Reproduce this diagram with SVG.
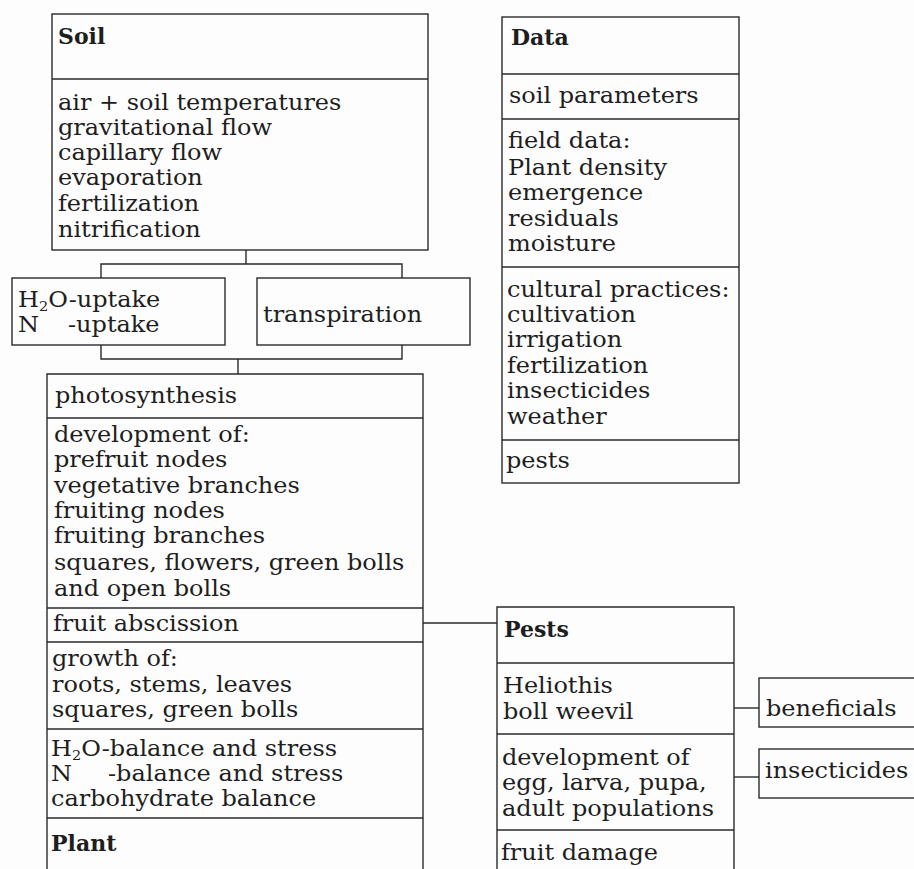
<svg xmlns="http://www.w3.org/2000/svg" width="914" height="869" viewBox="0 0 914 869">
  <style>
    .box { fill: none; stroke: #2a2a2a; stroke-width: 1.4; }
    .div { stroke: #2a2a2a; stroke-width: 1.4; }
    .link { fill: none; stroke: #2a2a2a; stroke-width: 1.4; }
    text { font-family: "DejaVu Serif", "Liberation Serif", serif; font-size: 21.5px; fill: #1e1e1e; }
    .title { font-weight: bold; font-size: 22px; }
    .sub { font-size: 13px; }
  </style>
  <rect width="914" height="869" fill="#fdfdfd"/>

  <!-- Soil model -->
  <g id="soil">
    <rect class="box" x="52" y="14" width="376" height="236"/>
    <line class="div" x1="52" y1="79" x2="428" y2="79"/>
    <text class="title" x="58" y="44">Soil</text>
    <text transform="translate(58,110) scale(1.116,1)">air + soil temperatures</text>
    <text transform="translate(58,135) scale(1.116,1)">gravitational flow</text>
    <text transform="translate(58,160) scale(1.116,1)">capillary flow</text>
    <text transform="translate(58,185) scale(1.116,1)">evaporation</text>
    <text transform="translate(58,211) scale(1.116,1)">fertilization</text>
    <text transform="translate(58,237) scale(1.116,1)">nitrification</text>
  </g>

  <!-- Uptake -->
  <g id="uptake">
    <rect class="box" x="12" y="278" width="213" height="67"/>
    <text transform="translate(18,307) scale(1.116,1)">H<tspan class="sub" dy="4">2</tspan><tspan dy="-4">O-uptake</tspan></text>
    <text transform="translate(18,332) scale(1.116,1)">N</text>
    <text transform="translate(68,332) scale(1.116,1)">-uptake</text>
  </g>

  <!-- Transpiration -->
  <g id="transpiration">
    <rect class="box" x="257" y="278" width="213" height="67"/>
    <text transform="translate(263,322) scale(1.116,1)">transpiration</text>
  </g>

  <!-- Plant model -->
  <g id="plant">
    <path class="box" d="M47,875 V374 H423 V875"/>
    <line class="div" x1="47" y1="418" x2="423" y2="418"/>
    <line class="div" x1="47" y1="608" x2="423" y2="608"/>
    <line class="div" x1="47" y1="642" x2="423" y2="642"/>
    <line class="div" x1="47" y1="729" x2="423" y2="729"/>
    <line class="div" x1="47" y1="818" x2="423" y2="818"/>
    <text transform="translate(55,403) scale(1.116,1)">photosynthesis</text>
    <text transform="translate(54,442) scale(1.116,1)">development of:</text>
    <text transform="translate(54,467) scale(1.116,1)">prefruit nodes</text>
    <text transform="translate(54,493) scale(1.116,1)">vegetative branches</text>
    <text transform="translate(54,518) scale(1.116,1)">fruiting nodes</text>
    <text transform="translate(54,543) scale(1.116,1)">fruiting branches</text>
    <text transform="translate(54,570) scale(1.116,1)">squares, flowers, green bolls</text>
    <text transform="translate(54,596) scale(1.116,1)">and open bolls</text>
    <text transform="translate(53,631) scale(1.116,1)">fruit abscission</text>
    <text transform="translate(52,666) scale(1.116,1)">growth of:</text>
    <text transform="translate(52,692) scale(1.116,1)">roots, stems, leaves</text>
    <text transform="translate(52,717) scale(1.116,1)">squares, green bolls</text>
    <text transform="translate(51,756) scale(1.116,1)">H<tspan class="sub" dy="4">2</tspan><tspan dy="-4">O-balance and stress</tspan></text>
    <text transform="translate(51,781) scale(1.116,1)">N</text>
    <text transform="translate(108,781) scale(1.116,1)">-balance and stress</text>
    <text transform="translate(51,806) scale(1.116,1)">carbohydrate balance</text>
    <text class="title" x="51" y="851">Plant</text>
  </g>

  <!-- Data inputs -->
  <g id="data">
    <rect class="box" x="502" y="17" width="237" height="466"/>
    <line class="div" x1="502" y1="74" x2="739" y2="74"/>
    <line class="div" x1="502" y1="119" x2="739" y2="119"/>
    <line class="div" x1="502" y1="267" x2="739" y2="267"/>
    <line class="div" x1="502" y1="440" x2="739" y2="440"/>
    <text class="title" x="511" y="45">Data</text>
    <text transform="translate(509,103) scale(1.116,1)">soil parameters</text>
    <text transform="translate(508,148) scale(1.116,1)">field data:</text>
    <text transform="translate(508,175) scale(1.116,1)">Plant density</text>
    <text transform="translate(508,200) scale(1.116,1)">emergence</text>
    <text transform="translate(508,226) scale(1.116,1)">residuals</text>
    <text transform="translate(508,251) scale(1.116,1)">moisture</text>
    <text transform="translate(507,297) scale(1.116,1)">cultural practices:</text>
    <text transform="translate(507,322) scale(1.116,1)">cultivation</text>
    <text transform="translate(507,347) scale(1.116,1)">irrigation</text>
    <text transform="translate(507,373) scale(1.116,1)">fertilization</text>
    <text transform="translate(507,398) scale(1.116,1)">insecticides</text>
    <text transform="translate(507,424) scale(1.116,1)">weather</text>
    <text transform="translate(506,468) scale(1.116,1)">pests</text>
  </g>

  <!-- Pests model -->
  <g id="pests">
    <path class="box" d="M497,875 V607 H734 V875"/>
    <line class="div" x1="497" y1="663" x2="734" y2="663"/>
    <line class="div" x1="497" y1="734" x2="734" y2="734"/>
    <line class="div" x1="497" y1="830" x2="734" y2="830"/>
    <text class="title" x="504" y="637">Pests</text>
    <text transform="translate(503,693) scale(1.116,1)">Heliothis</text>
    <text transform="translate(503,719) scale(1.116,1)">boll weevil</text>
    <text transform="translate(502,765) scale(1.116,1)">development of</text>
    <text transform="translate(502,790) scale(1.116,1)">egg, larva, pupa,</text>
    <text transform="translate(502,816) scale(1.116,1)">adult populations</text>
    <text transform="translate(501,860) scale(1.116,1)">fruit damage</text>
  </g>

  <!-- Beneficials -->
  <g id="beneficials">
    <rect class="box" x="759" y="678" width="160" height="49"/>
    <text transform="translate(766,716) scale(1.116,1)">beneficials</text>
  </g>

  <!-- Insecticides -->
  <g id="insecticides">
    <rect class="box" x="759" y="749" width="160" height="49"/>
    <text transform="translate(765,778) scale(1.116,1)">insecticides</text>
  </g>

  <!-- Connectors -->
  <g id="connectors">
    <path class="link" d="M246,250 V264 M101,278 V264 H402 V278"/>
    <path class="link" d="M101,345 V359 H402 V345 M238,359 V374"/>
    <path class="link" d="M423,623 H497"/>
    <path class="link" d="M734,708 H759"/>
    <path class="link" d="M734,777 H759"/>
  </g>
</svg>
